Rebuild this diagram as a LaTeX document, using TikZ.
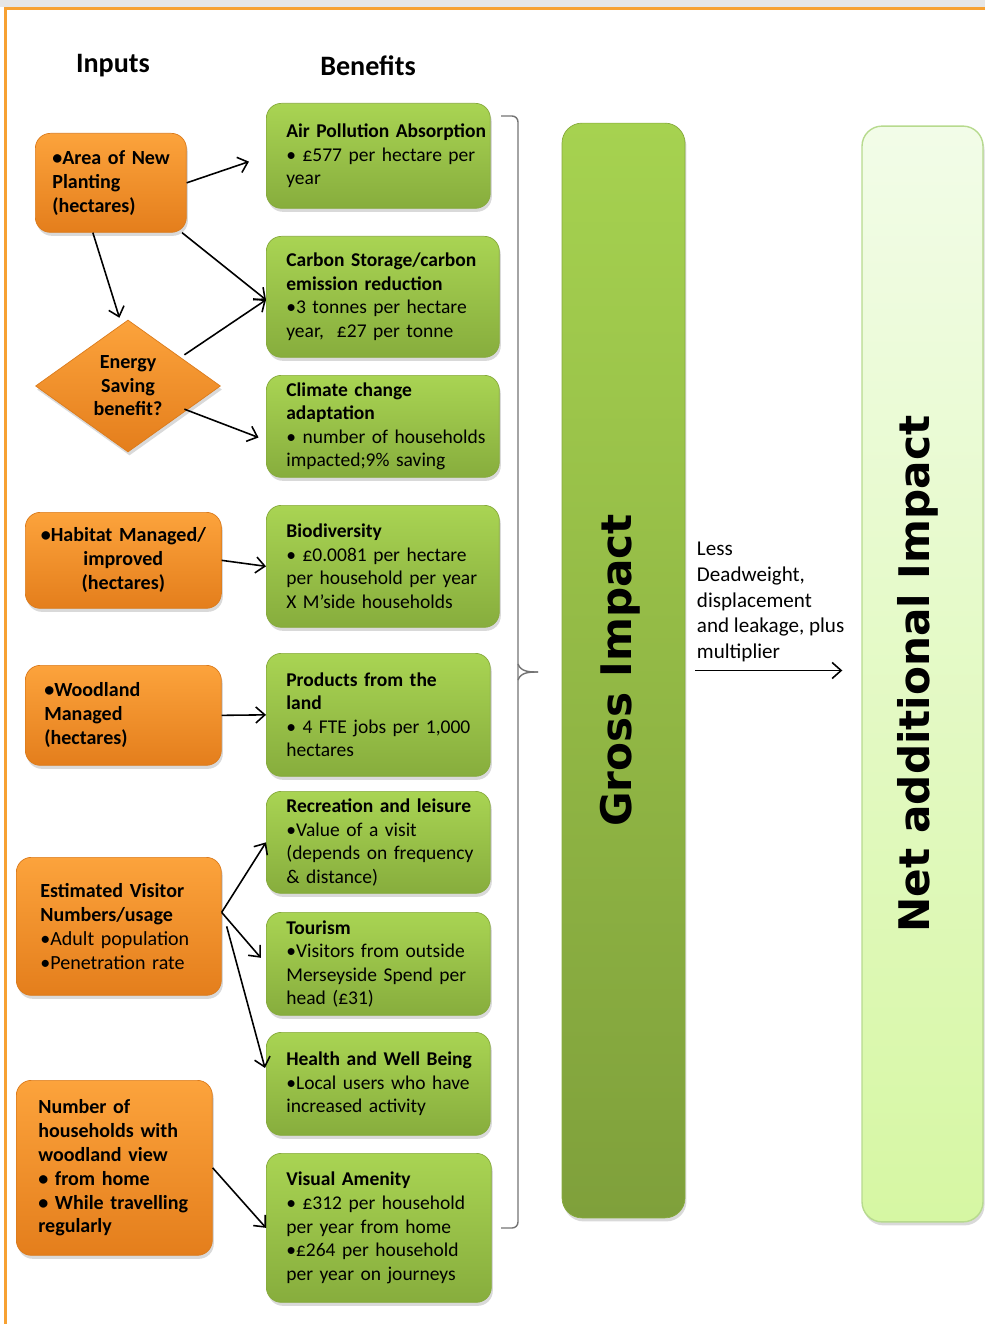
\documentclass[tikz,border=0pt]{standalone}
\usepackage{fontspec}
\setmainfont{Carlito}
\newfontfamily\impactfont{DejaVu Sans}
\usetikzlibrary{shapes.geometric, arrows.meta, shadows, calc}

\definecolor{orgtop}{HTML}{FCA33C}
\definecolor{orgbot}{HTML}{E47E1C}
\definecolor{orgedge}{HTML}{DB7B1C}
\definecolor{grntop}{HTML}{A9D453}
\definecolor{grnbot}{HTML}{87AD3D}
\definecolor{grnedge}{HTML}{86AA3C}
\definecolor{grosstop}{HTML}{A6D250}
\definecolor{grossbot}{HTML}{7FA03B}
\definecolor{nettop}{HTML}{F2FCE8}
\definecolor{netbot}{HTML}{D6F7A3}
\definecolor{netedge}{HTML}{B7DA8E}
\definecolor{frameorg}{HTML}{F7A132}
\definecolor{framegray}{HTML}{E6E6E6}

\begin{document}
\begin{tikzpicture}[
    x=0.02cm, y=-0.02cm,
    head/.style={font=\bfseries\fontsize{16}{19}\selectfont},
    softshadow/.style={drop shadow={shadow xshift=0.03cm, shadow yshift=-0.07cm, opacity=0.3}},
    inset/.style={execute at begin node={\leftskip=#1\rightskip=-2cm plus 1fil}},
    inbox/.style={rectangle, rounded corners=0.3cm, draw=orgedge, top color=orgtop, bottom color=orgbot, softshadow, anchor=north west, align=left, inner xsep=0pt, inner ysep=1pt, font=\bfseries\fontsize{11.4}{13.6}\selectfont},
    benbox/.style={rectangle, rounded corners=0.3cm, draw=grnedge, top color=grntop, bottom color=grnbot, softshadow, anchor=north west, align=left, inner xsep=0pt, inner ysep=1pt, inset=0.4cm, font=\fontsize{11.1}{13.4}\selectfont},
    impact/.style={rectangle, rounded corners=0.4cm, softshadow},
    impactlabel/.style={rotate=90, font=\impactfont\bfseries\fontsize{24}{28}\selectfont},
    bracket/.style={draw=black!55, line width=0.8pt},
    arrow/.style={-{Straight Barb[length=1.8mm, width=3.2mm]}, line width=0.9pt}
]
\useasboundingbox (0,0) rectangle (985,1324);

% Frame
\fill[framegray] (0,0) rectangle (985,7);
\draw[frameorg, line width=0.06cm] (985,8.5) -- (5.5,8.5) -- (5.5,1324);

% Headings
\node[head] (inputs) at (113,66) {Inputs};
\node[head] (benefits) at (368,66) {Benefits};

% Inputs
\node[inbox, inset=0.34cm, text width=3.02cm, minimum height=1.98cm] (area) at (35,133) {•Area of New\\Planting\\(hectares)};
\node[diamond, aspect=1.4, draw=orgedge, top color=orgtop, bottom color=orgbot, softshadow, minimum width=3.7cm, minimum height=2.64cm, inner sep=0pt, align=center, font=\bfseries\fontsize{11.4}{13.4}\selectfont] (energy) at (128,386) {Energy\\Saving\\benefit?};
\node[inbox, align=center, text width=3.92cm, minimum height=1.92cm] (habitat) at (25,512) {•Habitat Managed/\\improved\\(hectares)};
\node[inbox, inset=0.38cm, text width=3.92cm, minimum height=2cm] (woodland) at (25,665) {•Woodland\\Managed\\(hectares)};
\node[inbox, inset=0.48cm, text width=4.1cm, minimum height=2.76cm] (visitors) at (16,857) {Estimated Visitor\\Numbers/usage\\{\mdseries •Adult population}\\{\mdseries •Penetration rate}};
\node[inbox, inset=0.44cm, text width=3.92cm, minimum height=3.5cm] (households) at (16,1080) {Number of\\households with\\woodland view\\• from home\\• While travelling\\regularly};

% Benefits
\node[benbox, text width=4.48cm, minimum height=2.1cm] (air) at (266,103) {\textbf{Air Pollution Absorption}\\• £577 per hectare per\\year};
\node[benbox, text width=4.66cm, minimum height=2.42cm] (carbon) at (266,236) {\textbf{Carbon Storage/carbon}\\\textbf{emission reduction}\\•3 tonnes per hectare\\year,\ \ £27 per tonne};
\node[benbox, text width=4.66cm, minimum height=2.04cm] (climate) at (266,375) {\textbf{Climate change}\\\textbf{adaptation}\\• number of households\\impacted;9\% saving};
\node[benbox, text width=4.66cm, minimum height=2.44cm] (biodiv) at (266,505) {\textbf{Biodiversity}\\• £0.0081 per hectare\\per household per year\\X M’side households};
\node[benbox, text width=4.48cm, minimum height=2.46cm] (products) at (266,653) {\textbf{Products from the}\\\textbf{land}\\• 4 FTE jobs per 1,000\\hectares};
\node[benbox, text width=4.48cm, minimum height=2.04cm] (recreation) at (266,791) {\textbf{Recreation and leisure}\\•Value of a visit\\(depends on frequency\\\& distance)};
\node[benbox, text width=4.48cm, minimum height=2.06cm] (tourism) at (266,912) {\textbf{Tourism}\\•Visitors from outside\\Merseyside Spend per\\head (£31)};
\node[benbox, text width=4.48cm, minimum height=2.06cm] (health) at (266,1032) {\textbf{Health and Well Being}\\•Local users who have\\increased activity};
\node[benbox, text width=4.5cm, minimum height=2.98cm] (visual) at (266,1153) {\textbf{Visual Amenity}\\• £312 per household\\per year from home\\•£264 per household\\per year on journeys};

% Impact columns
\node[impact, draw=grnedge, top color=grosstop, bottom color=grossbot, minimum width=2.46cm, minimum height=21.9cm] (gross) at (623.5,670.5) {};
\node[impactlabel] (grosstext) at ([xshift=-0.07cm]gross.center) {Gross Impact};
\node[impact, draw=netedge, line width=0.8pt, top color=nettop, bottom color=netbot, minimum width=2.42cm, minimum height=21.92cm] (net) at (922.5,674) {};
\node[impactlabel] (nettext) at ([xshift=-0.09cm]net.center) {Net additional Impact};

% Bracket
\draw[bracket] (501,116) -- (512,116) to[out=0, in=90] (518,122) -- (518,1222) to[out=-90, in=0] (512,1228) -- (501,1228);
\draw[bracket] (518,664) to[out=-70, in=180] (538,672);
\draw[bracket] (518,680) to[out=70, in=180] (538,672);

% Arrows
\draw[arrow, shorten >=0.36cm] (area.east) -- (air.west);
\draw[arrow] (area.-35) -- ([yshift=-0.06cm]carbon.west);
\draw[arrow, shorten >=0.04cm] ([xshift=-0.36cm]area.south) -- ([xshift=-0.16cm]energy.north);
\draw[arrow] ([shift={(0.2cm,-0.04cm)}]energy.north east) -- ([yshift=-0.06cm]carbon.west);
\draw[arrow, shorten >=0.16cm] ([shift={(0.2cm,0.2cm)}]energy.south east) -- ([yshift=-0.28cm]climate.west);
\draw[arrow] (habitat.east) -- (biodiv.west);
\draw[arrow] (woodland.east) -- (products.west);
\draw[arrow] ([yshift=0.28cm]visitors.east) -- (recreation.west);
\draw[arrow, shorten >=0.16cm] ([yshift=0.28cm]visitors.east) -- (tourism.west);
\draw[arrow, shorten >=0.08cm] ([xshift=0.1cm]visitors.east) -- ([yshift=0.24cm]health.west);
\draw[arrow] (households.east) -- (visual.west);
\draw[arrow, shorten <=0.2cm, shorten >=0.38cm] (gross.east) -- (gross.east -| net.west)
    node[pos=0, anchor=south west, xshift=0.1cm, yshift=0.04cm, align=left, font=\fontsize{12}{14.6}\selectfont] (lessnote) {Less\\Deadweight,\\displacement\\and leakage, plus\\multiplier};

\end{tikzpicture}
\end{document}
